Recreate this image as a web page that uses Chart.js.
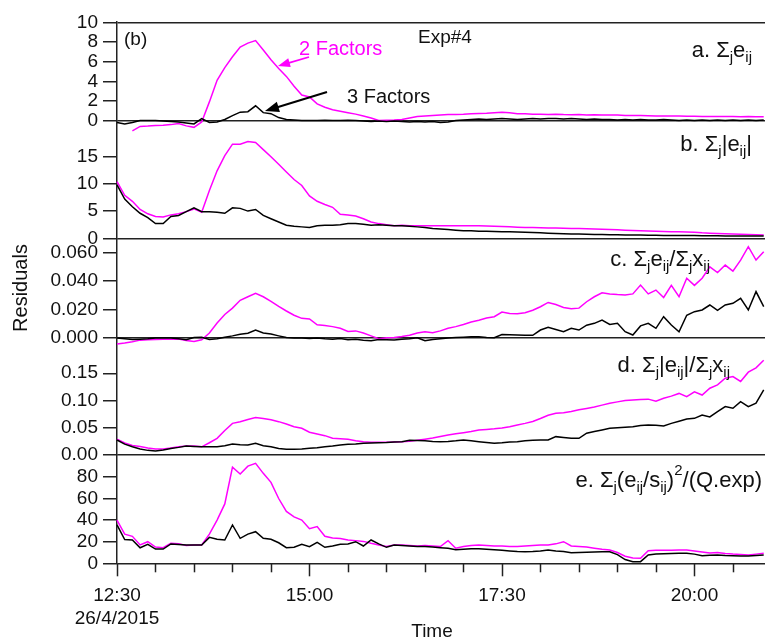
<!DOCTYPE html>
<html>
<head>
<meta charset="utf-8">
<script src="https://cdn.jsdelivr.net/npm/chart.js@4.4.1/dist/chart.umd.min.js"></script>
<style>
  html, body { margin: 0; padding: 0; background: #fff; }
  #wrap { width: 765px; height: 641px; }
</style>
</head>
<body>
<div id="wrap"><canvas id="resid" width="765" height="641"></canvas></div>
<script>
// minutes after 12:30, 26/4/2015 (6 min steps)
const minutes = [
  0,6,12,18,24,30,36,42,48,54,
  60,66,72,78,84,90,96,102,108,114,
  120,126,132,138,144,150,156,162,168,174,
  180,186,192,198,204,210,216,222,228,234,
  240,246,252,258,264,270,276,282,288,294,
  300,306,312,318,324,330,336,342,348,354,
  360,366,372,378,384,390,396,402,408,414,
  420,426,432,438,444,450,456,462,468,474,
  480,486,492,498,504
];

// a. sum_j e_ij
const sumE2 = [
  null,null,-1.05,-0.6,-0.56,-0.5,-0.48,-0.42,-0.3,-0.55,
  -0.7,-0.15,1.9,4.1,5.4,6.5,7.5,7.9,8.15,7.2,
  6.2,5.3,4.5,3.5,2.6,2.4,1.7,1.35,1.1,0.95,
  0.8,0.65,0.45,0.25,0.0,0.02,0.05,0.1,0.25,0.4,
  0.45,0.5,0.55,0.6,0.62,0.65,0.7,0.72,0.75,0.8,
  0.85,0.78,0.7,0.68,0.65,0.63,0.62,0.65,0.6,0.58,
  0.6,0.55,0.58,0.56,0.55,0.56,0.52,0.5,0.5,0.48,
  0.47,0.47,0.45,0.46,0.44,0.43,0.42,0.42,0.4,0.41,
  0.4,0.39,0.4,0.38,0.39
];
const sumE3 = [
  -0.2,-0.35,-0.2,0.0,0.0,0.0,-0.05,-0.1,-0.15,-0.25,
  -0.35,0.2,-0.2,-0.15,0.1,0.5,0.85,0.9,1.5,0.8,
  0.7,0.3,0.1,0.05,0.0,0.0,0.0,0.02,0.0,0.0,
  0.02,0.0,-0.05,-0.1,-0.05,-0.1,-0.05,-0.1,-0.15,-0.1,
  -0.15,-0.1,-0.2,-0.15,0.0,0.05,0.1,0.15,0.1,0.15,
  0.2,0.15,0.1,0.15,0.2,0.15,0.2,0.2,0.15,0.2,
  0.15,0.1,0.15,0.1,0.1,0.05,0.1,0.05,0.1,0.05,
  0.05,0.1,0.05,0.0,0.05,0.0,0.05,0.0,0.05,0.0,
  0.05,0.0,0.05,0.0,0.05
];

// b. sum_j |e_ij|
const absE2 = [
  10.4,7.9,6.8,5.3,4.5,4.0,3.9,4.3,4.5,4.9,
  5.4,4.8,8.8,12.4,15.2,17.3,17.3,17.8,17.6,16.3,
  15.0,13.6,12.2,10.8,9.7,7.8,6.8,6.2,5.7,4.4,
  4.3,4.1,3.6,3.0,2.7,2.5,2.3,2.4,2.3,2.3,
  2.3,2.3,2.3,2.3,2.3,2.3,2.3,2.3,2.25,2.2,
  2.15,2.1,2.05,2.0,2.0,1.95,1.9,1.9,1.85,1.8,
  1.8,1.75,1.7,1.65,1.6,1.55,1.5,1.45,1.4,1.35,
  1.3,1.25,1.2,1.2,1.15,1.1,1.0,0.95,0.9,0.85,
  0.8,0.75,0.7,0.65,0.6
];
const absE3 = [
  9.8,7.2,5.8,4.6,3.8,2.7,2.7,4.0,4.2,4.9,
  5.6,4.9,4.9,4.8,4.6,5.6,5.5,5.0,5.3,4.2,
  3.6,3.0,2.4,2.2,2.1,2.0,2.3,2.4,2.4,2.5,
  2.7,2.7,2.6,2.4,2.5,2.4,2.3,2.3,2.2,2.1,
  2.0,1.8,1.7,1.6,1.5,1.4,1.4,1.3,1.3,1.25,
  1.2,1.2,1.15,1.1,1.05,1.0,0.95,0.9,0.85,0.8,
  0.8,0.75,0.7,0.7,0.65,0.65,0.6,0.6,0.6,0.55,
  0.55,0.5,0.5,0.5,0.5,0.5,0.45,0.45,0.45,0.4,
  0.4,0.4,0.4,0.4,0.4
];

// c. sum_j e_ij / sum_j x_ij
const relE2 = [
  -0.0042,-0.0035,-0.0026,-0.0015,-0.0012,-0.001,-0.0009,-0.0008,-0.0007,-0.0018,
  -0.0025,-0.0012,0.0035,0.0105,0.0165,0.021,0.0265,0.029,0.0314,0.029,
  0.0258,0.0222,0.019,0.016,0.0138,0.0134,0.0093,0.0088,0.008,0.0068,
  0.0046,0.005,0.0035,0.0015,-0.0005,0.0002,0.0004,0.001,0.002,0.0035,
  0.0044,0.0037,0.005,0.0068,0.008,0.0095,0.0112,0.0125,0.014,0.015,
  0.0182,0.0172,0.017,0.0178,0.0195,0.022,0.025,0.0235,0.0215,0.0205,
  0.021,0.0255,0.029,0.0318,0.031,0.0305,0.0302,0.031,0.0372,0.031,
  0.0337,0.0285,0.037,0.029,0.042,0.037,0.042,0.05,0.046,0.0513,
  0.047,0.0548,0.0642,0.0548,0.0607
];
const relE3 = [
  0.0,-0.0005,-0.001,-0.0008,-0.0005,0.0,0.0,0.0,-0.0005,-0.0012,
  0.0003,0.0005,-0.001,-0.0005,0.0005,0.0015,0.0027,0.0033,0.0056,0.0035,
  0.0028,0.0015,0.0003,0.0,0.0,-0.0003,0.0,-0.0005,-0.0008,-0.0003,
  -0.0012,-0.0008,-0.0015,-0.0019,-0.001,-0.0012,-0.0014,-0.0008,-0.0005,0.0002,
  -0.0019,-0.001,-0.0005,0.0,0.0003,0.0006,0.0009,0.0008,0.0004,0.0002,
  0.0025,0.0023,0.0021,0.002,0.0019,0.0056,0.0075,0.006,0.0044,0.0068,
  0.0056,0.009,0.0103,0.0126,0.0095,0.0103,0.0044,0.0021,0.0085,0.0103,
  0.0068,0.015,0.0091,0.0044,0.016,0.0185,0.0197,0.0232,0.0195,0.0232,
  0.0244,0.0279,0.0197,0.0326,0.022
];

// d. sum_j |e_ij| / sum_j x_ij
const relAbs2 = [
  0.029,0.022,0.0175,0.0155,0.013,0.011,0.0108,0.013,0.015,0.0165,
  0.0165,0.015,0.0225,0.0306,0.045,0.058,0.0612,0.065,0.0686,0.067,
  0.0645,0.0612,0.057,0.052,0.049,0.0417,0.0385,0.0355,0.0306,0.0298,
  0.029,0.026,0.0245,0.0235,0.0233,0.0232,0.024,0.0245,0.025,0.027,
  0.029,0.031,0.034,0.0367,0.039,0.041,0.043,0.046,0.047,0.048,
  0.0495,0.052,0.055,0.058,0.0615,0.067,0.073,0.0765,0.0777,0.08,
  0.083,0.0855,0.088,0.0915,0.095,0.0975,0.1,0.101,0.102,0.1025,
  0.0985,0.104,0.108,0.113,0.107,0.116,0.11,0.1225,0.1286,0.141,
  0.144,0.135,0.152,0.16,0.174
];
const relAbs3 = [
  0.0275,0.02,0.0153,0.011,0.0085,0.0075,0.009,0.012,0.014,0.0165,
  0.0158,0.0153,0.0153,0.0153,0.017,0.02,0.019,0.0185,0.0214,0.017,
  0.0153,0.012,0.0105,0.0105,0.011,0.0123,0.0135,0.0153,0.0165,0.0184,
  0.0195,0.02,0.0214,0.022,0.0226,0.023,0.024,0.0245,0.027,0.0265,
  0.026,0.025,0.0245,0.025,0.026,0.0275,0.026,0.0245,0.023,0.0214,
  0.0225,0.024,0.0245,0.026,0.027,0.0275,0.0275,0.0337,0.032,0.0306,
  0.0306,0.04,0.043,0.046,0.049,0.05,0.051,0.052,0.054,0.055,
  0.0545,0.0533,0.058,0.062,0.066,0.0673,0.0735,0.07,0.0796,0.0888,
  0.0857,0.098,0.0888,0.095,0.1195
];

// e. sum_j (e_ij/s_ij)^2 / Q.exp
const q2 = [
  40,27,25,17,20,15,14.5,18.5,18,16.5,
  17,17,27,40,55,89,82.7,90,92.6,83.3,
  75,60,48,43,40,32,34,25,23.5,23,
  21.5,21,20.3,18.5,17,15.5,17,17,16.5,16,
  16.5,16,15.5,21,14,15.5,16.5,17,16.5,16,
  16,15.5,15.5,16,16.5,17,17,18,20,16,
  15.5,15,14,13,12.3,10,6.5,5,4.6,11.7,
  12,12,12.2,12.3,12.3,11.5,10.5,9.5,10,9,
  8.5,8.2,7.7,8.5,9.3
];
const q3 = [
  35.5,22,21.6,14.4,17.6,13.2,13.2,17.9,17.5,17,
  17,17,24,22.2,21.6,35.5,23.1,27,29.3,23.1,
  22.2,19,14.5,14.8,17.6,15.4,19.4,14.8,16,17.6,
  17.9,20,16,21.6,18,14.8,17,16.5,16,15.5,
  15.5,15,14.5,13.9,12.5,13,13.5,13.5,13,12.5,
  12,11.5,11,10.7,11,11.5,12.3,11.5,11,9.8,
  10,10.2,10.5,10.7,10.7,8,3.5,1.5,1.5,7.7,
  8.5,8.8,9,9.2,9.3,8.5,7,7.5,7.7,7.2,
  7,6.8,6.8,7.2,7.7
];

// axis ticks
const ticksA = [0, 2, 4, 6, 8, 10];
const ticksB = [0, 5, 10, 15];
const ticksC = [0, 0.02, 0.04, 0.06];
const ticksD = [0, 0.05, 0.10, 0.15];
const ticksE = [0, 20, 40, 60, 80];
const minorTicks = [0,30,60,90,120,150,180,210,240,270,300,330,360,390,420,450,480];
const majorTicks = [0, 150, 300, 450];
const majorLabels = ['12:30', '15:00', '17:30', '20:00'];
const dateLabel = '26/4/2015';

const FAMILY = "'Liberation Sans', Arial, sans-serif";
const PINK = '#ff00ff';
const INK = '#111';
const AXIS = '#222';
const TICK_FONT = { family: FAMILY, size: 19 };

Chart.defaults.font.family = FAMILY;
Chart.defaults.font.size = 19;
Chart.defaults.color = INK;

const pts = vals => vals.map((v, i) => ({ x: minutes[i], y: v }));

function series(vals, color, axis) {
  return {
    data: pts(vals), yAxisID: axis,
    borderColor: color, borderWidth: 1.5,
    pointRadius: 0, tension: 0, clip: false, spanGaps: false
  };
}

function panelAxis(max, weight, ticks, digits, lines) {
  return {
    type: 'linear', position: 'left', stack: 'panels', stackWeight: weight,
    min: 0, max: max,
    afterBuildTicks: s => { s.ticks = ticks.map(v => ({ value: v })); },
    afterFit: s => { s.width = 117; },
    ticks: { padding: 5, autoSkip: false, font: TICK_FONT, color: INK, callback: v => v.toFixed(digits) },
    grid: {
      drawOnChartArea: true,
      color: c => (c.tick && lines.includes(c.tick.value)) ? AXIS : 'rgba(0,0,0,0)',
      lineWidth: 1.5, tickLength: 14, tickColor: AXIS, tickWidth: 1.5
    },
    border: { color: AXIS, width: 1.5 }
  };
}

// panel captions: [text, 'sub' | 'sup' | undefined]
const captions = [
  { right: 752, base: 57, parts: [['a. Σ'], ['j', 'sub'], ['e'], ['ij', 'sub']] },
  { right: 752, base: 151, parts: [['b. Σ'], ['j', 'sub'], ['|e'], ['ij', 'sub'], ['|']] },
  { right: 710, base: 266, parts: [['c. Σ'], ['j', 'sub'], ['e'], ['ij', 'sub'], ['/Σ'], ['j', 'sub'], ['x'], ['ij', 'sub']] },
  { right: 730, base: 372, parts: [['d. Σ'], ['j', 'sub'], ['|e'], ['ij', 'sub'], ['|/Σ'], ['j', 'sub'], ['x'], ['ij', 'sub']] },
  { right: 762, base: 487, parts: [['e. Σ'], ['j', 'sub'], ['(e'], ['ij', 'sub'], ['/s'], ['ij', 'sub'], [')'], ['2', 'sup'], ['/(Q.exp)']] }
];

function drawRich(ctx, parts, right, base) {
  const font = k => (k ? '15px ' : '22px ') + FAMILY;
  let w = 0;
  parts.forEach(([t, k]) => { ctx.font = font(k); w += ctx.measureText(t).width; });
  let x = right - w;
  parts.forEach(([t, k]) => {
    ctx.font = font(k);
    const dy = k === 'sub' ? 5 : (k === 'sup' ? -12 : 0);
    ctx.fillText(t, x, base + dy);
    x += ctx.measureText(t).width;
  });
}

function arrow(ctx, x0, y0, x1, y1, color, width, head) {
  const a = Math.atan2(y1 - y0, x1 - x0);
  ctx.strokeStyle = color; ctx.fillStyle = color; ctx.lineWidth = width;
  ctx.beginPath();
  ctx.moveTo(x0, y0);
  ctx.lineTo(x1 - Math.cos(a) * head * 0.8, y1 - Math.sin(a) * head * 0.8);
  ctx.stroke();
  ctx.beginPath();
  ctx.moveTo(x1, y1);
  ctx.lineTo(x1 - head * Math.cos(a) + head * 0.38 * Math.sin(a), y1 - head * Math.sin(a) - head * 0.38 * Math.cos(a));
  ctx.lineTo(x1 - head * Math.cos(a) - head * 0.38 * Math.sin(a), y1 - head * Math.sin(a) + head * 0.38 * Math.cos(a));
  ctx.closePath();
  ctx.fill();
}

const decor = {
  id: 'decor',
  afterDraw(chart) {
    const { ctx, chartArea, scales } = chart;
    ctx.save();

    // time axis tick marks, longer every 2.5 h
    ctx.strokeStyle = AXIS; ctx.lineWidth = 1.5;
    minorTicks.forEach(v => {
      const px = Math.round(scales.x.getPixelForValue(v)) + 0.5;
      const len = majorTicks.includes(v) ? 13 : 9;
      ctx.beginPath();
      ctx.moveTo(px, chartArea.bottom);
      ctx.lineTo(px, chartArea.bottom + len);
      ctx.stroke();
    });

    ctx.fillStyle = INK;
    ctx.textBaseline = 'alphabetic';
    ctx.font = '19px ' + FAMILY;
    ctx.textAlign = 'center';
    ctx.fillText('Time', 432, 637);

    ctx.save();
    ctx.translate(27, 288);
    ctx.rotate(-Math.PI / 2);
    ctx.font = '20px ' + FAMILY;
    ctx.fillText('Residuals', 0, 0);
    ctx.restore();

    ctx.textAlign = 'left';
    ctx.font = '19px ' + FAMILY;
    ctx.fillText('(b)', 124, 45);
    ctx.fillText('Exp#4', 418, 43);

    ctx.font = '20px ' + FAMILY;
    ctx.fillStyle = PINK;
    ctx.fillText('2 Factors', 299, 55);
    ctx.fillStyle = INK;
    ctx.fillText('3 Factors', 347, 103);

    arrow(ctx, 309, 57, 278, 66, PINK, 1.8, 12);
    arrow(ctx, 327, 92, 265, 111, '#000', 2, 14);

    ctx.fillStyle = INK;
    captions.forEach(c => drawRich(ctx, c.parts, c.right, c.base));

    ctx.restore();
  }
};

new Chart(document.getElementById('resid'), {
  type: 'line',
  data: {
    datasets: [
      series(sumE3, '#000', 'ya'), series(sumE2, PINK, 'ya'),
      series(absE3, '#000', 'yb'), series(absE2, PINK, 'yb'),
      series(relE3, '#000', 'yc'), series(relE2, PINK, 'yc'),
      series(relAbs3, '#000', 'yd'), series(relAbs2, PINK, 'yd'),
      series(q3, '#000', 'ye'), series(q2, PINK, 'ye')
    ]
  },
  options: {
    responsive: false,
    animation: false,
    devicePixelRatio: 1,
    layout: { padding: { top: 22, left: 0, right: 0, bottom: 0 } },
    plugins: { legend: { display: false }, tooltip: { enabled: false } },
    scales: {
      x: {
        type: 'linear', min: 0, max: 505,
        afterBuildTicks: s => { s.ticks = minorTicks.map(v => ({ value: v })); },
        afterFit: s => { s.height = 641 - 563.3; },
        ticks: {
          autoSkip: false, maxRotation: 0, padding: 13, font: TICK_FONT, color: INK,
          callback: v => {
            const k = majorTicks.indexOf(v);
            if (k < 0) return '';
            return k === 0 ? [majorLabels[0], dateLabel] : majorLabels[k];
          }
        },
        grid: { display: false },
        border: { display: false }
      },
      // stacked panels are laid out bottom-up
      ye: panelAxis(100.3, 108.3, ticksE, 0, [0]),
      yd: panelAxis(0.2147, 117, ticksD, 2, [0]),
      yc: panelAxis(0.0701, 99.7, ticksC, 3, [0]),
      yb: panelAxis(21.65, 117.8, ticksB, 0, [0]),
      ya: panelAxis(10.05, 98.5, ticksA, 0, [0, 10])
    }
  },
  plugins: [decor]
});
</script>
</body>
</html>
